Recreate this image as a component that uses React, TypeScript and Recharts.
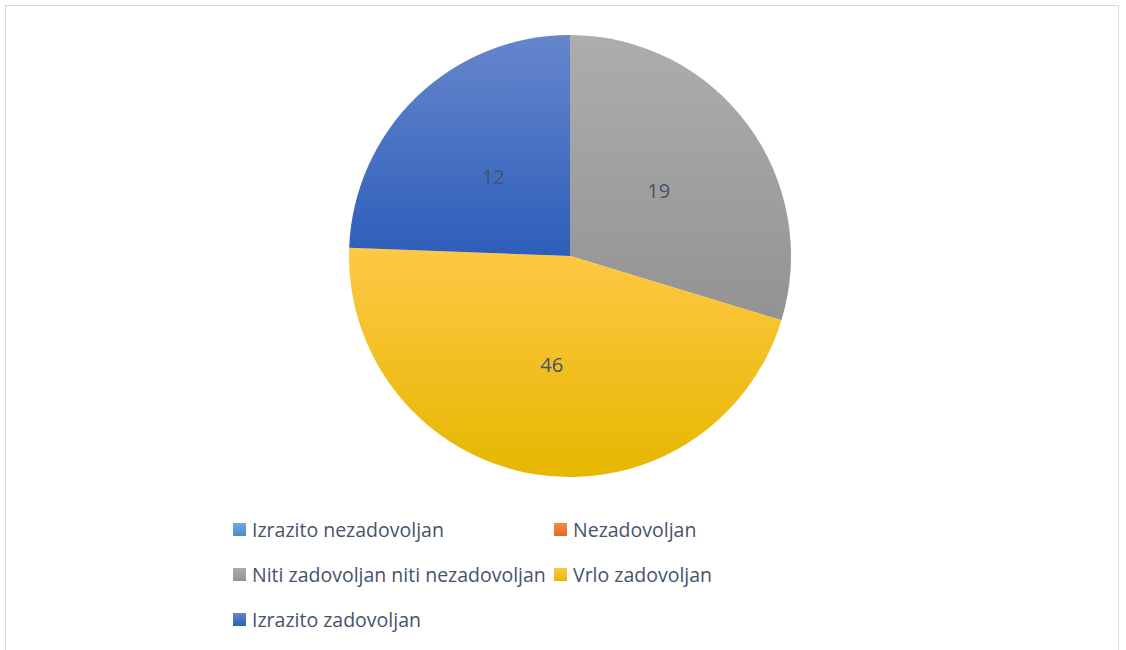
import { Cell, Legend, Pie, PieChart } from "recharts";

const categories = [
  "Izrazito nezadovoljan",
  "Nezadovoljan",
  "Niti zadovoljan niti nezadovoljan",
  "Vrlo zadovoljan",
  "Izrazito zadovoljan",
];
// slice sizes as drawn in the reference
const shares = [0, 0, 29.7, 45.9, 24.4];
// numbers printed on the slices
const dataLabels = [0, 0, 19, 46, 12];

const colors = [
  { id: "g0", top: "#72aadd", bottom: "#4a8bcf" },
  { id: "g1", top: "#f18c4c", bottom: "#e36a1b" },
  { id: "g2", top: "#adadad", bottom: "#939393" },
  { id: "g3", top: "#ffc845", bottom: "#e6b700" },
  { id: "g4", top: "#6686cc", bottom: "#2d5eb9" },
];

const data = categories.map((name, i) => ({
  name,
  value: shares[i],
  label: dataLabels[i],
}));

const TEXT = "#44546A";
const FONT = "'Open Sans', Lato, sans-serif";
const RADIAN = Math.PI / 180;

function SliceLabel(props: any) {
  const { cx, cy, midAngle, outerRadius, index } = props;
  const value = dataLabels[index];
  if (!value) return null;
  const r = outerRadius * 0.5;
  const x = cx + r * Math.cos(-midAngle * RADIAN);
  const y = cy + r * Math.sin(-midAngle * RADIAN);
  return (
    <text
      x={x}
      y={y}
      fill={TEXT}
      fontSize={20}
      fontFamily={FONT}
      textAnchor="middle"
      dominantBaseline="central"
    >
      {value}
    </text>
  );
}

function LegendGrid() {
  return (
    <div
      style={{
        display: "grid",
        gridTemplateColumns: "321px auto",
        gridAutoRows: "45px",
        fontFamily: FONT,
        fontSize: 19.5,
        color: TEXT,
      }}
    >
      {categories.map((name, i) => (
        <div key={name} style={{ display: "flex", alignItems: "center" }}>
          <span
            style={{
              display: "inline-block",
              width: 13,
              height: 13,
              marginRight: 6,
              background: `linear-gradient(${colors[i].top}, ${colors[i].bottom})`,
            }}
          />
          <span style={{ whiteSpace: "nowrap" }}>{name}</span>
        </div>
      ))}
    </div>
  );
}

export default function App() {
  return (
    <div
      style={{
        position: "absolute",
        left: 5,
        top: 5,
        width: 1114,
        height: 645,
        borderTop: "1px solid #d9d9d9",
        borderLeft: "1px solid #d9d9d9",
        borderRight: "1px solid #d9d9d9",
        background: "#fff",
        boxSizing: "border-box",
      }}
    >
      <PieChart width={1112} height={644}>
        <defs>
          {colors.map((c) => (
            <linearGradient key={c.id} id={c.id} x1="0" y1="0" x2="0" y2="1">
              <stop offset="0%" stopColor={c.top} />
              <stop offset="100%" stopColor={c.bottom} />
            </linearGradient>
          ))}
        </defs>
        <Pie
          data={data}
          dataKey="value"
          nameKey="name"
          cx={559}
          cy={245}
          outerRadius={221}
          startAngle={90}
          endAngle={-270}
          stroke="none"
          label={SliceLabel}
          labelLine={false}
          isAnimationActive={false}
        >
          {data.map((d, i) => (
            <Cell key={d.name} fill={`url(#${colors[i].id})`} />
          ))}
        </Pie>
        <Legend
          content={() => <LegendGrid />}
          wrapperStyle={{ left: 227, top: 501, width: 600, bottom: "auto" }}
        />
      </PieChart>
    </div>
  );
}
